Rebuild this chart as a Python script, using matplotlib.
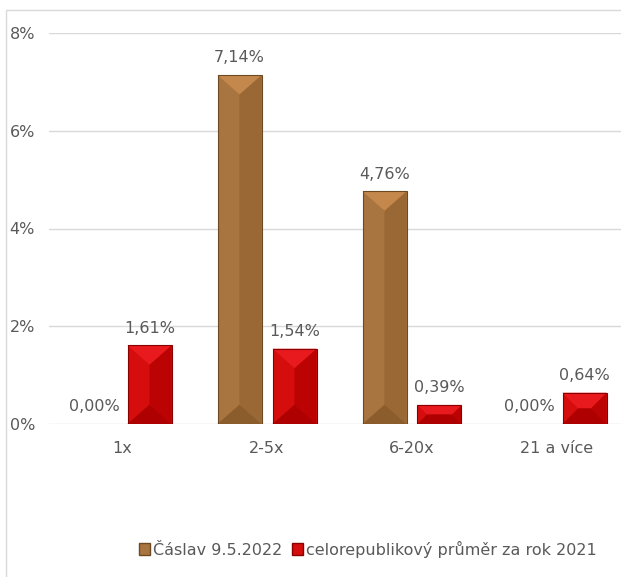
import matplotlib
matplotlib.use("Agg")
import matplotlib.pyplot as plt
from matplotlib.patches import Polygon, Rectangle, Patch

# ============================
# Data
# ============================
categories = ["1x", "2-5x", "6-20x", "21 a více"]
caslav = [0.00, 7.14, 4.76, 0.00]
celorep = [1.61, 1.54, 0.39, 0.64]
series_names = ["Čáslav 9.5.2022", "celorepublikový průměr za rok 2021"]
yticks = [0, 2, 4, 6, 8]

# colours: base (left), right side, top bevel, bottom bevel, edge
brown = ["#A8743F", "#996834", "#C4884D", "#8C5D2C", "#6E4A22"]
red = ["#D50D0D", "#BC0303", "#E81A1E", "#AE0000", "#8A0000"]
grey_text = "#595959"
grid_col = "#D9D9D9"

plt.rcParams["font.family"] = ["DejaVu Sans"]

fig = plt.figure(figsize=(6.21, 5.77), dpi=100)
ax = fig.add_axes([49.5 / 621, 153 / 577, 580 / 621, 391 / 577])
ax.set_xlim(-0.5, 3.5)
ax.set_ylim(0, 8)

# outer chart frame (partly outside the picture)
fig.patches.append(Rectangle((6 / 621, -0.2), 2.0, 1.2 - 10 / 577,
                             transform=fig.transFigure, fill=False,
                             edgecolor=grid_col, lw=1.0, clip_on=False))

ax.set_yticks(yticks)
ax.set_yticklabels([f"{t}%" for t in yticks])
ax.yaxis.grid(True, color=grid_col, lw=1.0)
ax.set_axisbelow(True)
ax.tick_params(axis="y", length=0, pad=10.5, labelsize=11.5, labelcolor=grey_text)
ax.tick_params(axis="x", length=0, pad=12, labelsize=11.5, labelcolor=grey_text)
ax.set_xticks(range(len(categories)))
ax.set_xticklabels(categories)
for s in ax.spines.values():
    s.set_visible(False)

# bar geometry in pixels -> data
px_x = 580 / 4.0
px_y = 391 / 8.0
bar_w = 44 / px_x
gap = 11 / px_x
offsets = [-(bar_w + gap) / 2, (bar_w + gap) / 2]


def bevel_bar(x, h, cols):
    if h <= 0:
        return
    x0, x1 = x - bar_w / 2, x + bar_w / 2
    ax.bar(x, h, width=bar_w, color=cols[0], edgecolor="none", zorder=3)
    d = min(bar_w * px_x / 2 * 0.88, h * px_y / 2)
    dx, dy = d / px_x, d / px_y
    if d * 1.0 >= bar_w * px_x / 2 * 0.88:
        right = [(x1, h), (x, h - dy), (x, dy), (x1, 0)]
        top = [(x0, h), (x1, h), (x, h - dy)]
        bot = [(x0, 0), (x1, 0), (x, dy)]
    else:
        right = [(x1, h), (x1 - dx, h - dy), (x1 - dx, dy), (x1, 0)]
        top = [(x0, h), (x1, h), (x1 - dx, h - dy), (x0 + dx, h - dy)]
        bot = [(x0, 0), (x1, 0), (x1 - dx, dy), (x0 + dx, dy)]
    for pts, c in [(right, cols[1]), (top, cols[2]), (bot, cols[3])]:
        ax.add_patch(Polygon(pts, closed=True, facecolor=c, edgecolor="none", zorder=4))
    ax.bar(x, h, width=bar_w, fill=False, edgecolor=cols[4], lw=0.8, zorder=5)


for values, cols, off in [(caslav, brown, offsets[0]), (celorep, red, offsets[1])]:
    for i, v in enumerate(values):
        x = i + off
        bevel_bar(x, v, cols)
        ax.annotate(f"{v:.2f}%".replace(".", ","), (x, v), xytext=(0, 7),
                    textcoords="offset points", ha="center", va="bottom",
                    fontsize=11.5, color=grey_text, zorder=6)

handles = [Patch(facecolor=brown[0], edgecolor=brown[4]),
           Patch(facecolor=red[0], edgecolor=red[4])]
fig.legend(handles, series_names, loc="center", bbox_to_anchor=(368 / 621, 1 - 549 / 577),
           ncol=2, frameon=False, fontsize=11.5, labelcolor=grey_text,
           handlelength=0.7, handleheight=0.7, handletextpad=0.2, columnspacing=0.6)

fig.savefig("out.png", dpi=100)
